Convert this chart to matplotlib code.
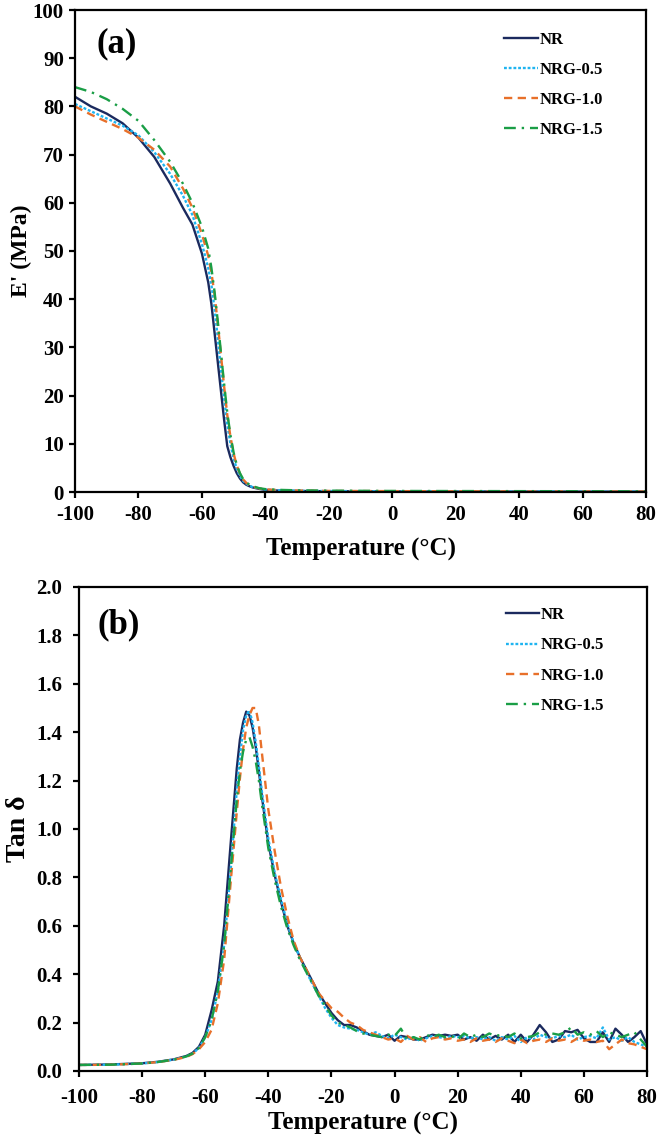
import matplotlib
matplotlib.use("Agg")
import matplotlib.pyplot as plt
import numpy as np

# ---------------- data: storage modulus E' (MPa) ----------------
T_mod = [-100, -95, -90, -85, -80, -75, -70, -66, -63, -60, -58, -57, -56, -55, -54,
         -53, -52, -51, -50, -49, -48, -47, -46, -45, -44, -42, -40, -36, -30, -20,
         0, 20, 40, 60, 80]
E_NR = [82, 80, 78.5, 76.5, 73.5, 69.5, 64, 59, 55.5, 49.5, 43.5, 39, 33, 27, 21,
        15, 9.5, 7.2, 5.4, 3.9, 2.8, 2.0, 1.5, 1.2, 0.95, 0.65, 0.45, 0.3, 0.22, 0.16,
        0.12, 0.1, 0.09, 0.08, 0.07]
E_G05 = [80.5, 79, 77.5, 76, 74, 70.5, 66, 61.5, 57.5, 51.5, 46.5, 43, 38, 32, 25.5,
         19.5, 14, 10, 7, 4.8, 3.3, 2.3, 1.7, 1.3, 1.0, 0.7, 0.5, 0.35, 0.25, 0.2,
         0.15, 0.12, 0.1, 0.09, 0.08]
E_G10 = [80, 78.3, 76.8, 75.3, 73.5, 71, 67.5, 63, 59, 53.5, 49, 45.5, 41, 35, 28.5,
         22, 16, 11.5, 8, 5.5, 3.8, 2.6, 1.9, 1.4, 1.1, 0.75, 0.55, 0.4, 0.3, 0.22,
         0.18, 0.15, 0.13, 0.12, 0.1]
E_G15 = [84, 83, 81.5, 79.5, 77, 73, 68.5, 64, 60, 55, 50.5, 46.5, 41.5, 35.5, 29,
         22.5, 16.5, 11.8, 8.2, 5.6, 3.9, 2.7, 2.0, 1.5, 1.2, 0.8, 0.6, 0.45, 0.35, 0.28,
         0.22, 0.2, 0.18, 0.16, 0.14]

# ---------------- data: tan delta ----------------
T_tan = [-100, -90, -80, -75, -70, -66, -64, -62, -60, -58, -56, -54, -52, -50, -49,
         -48, -47, -46, -45, -44, -43, -42, -40, -38, -36, -34, -32, -30, -28, -26,
         -24, -22, -20, -18, -16, -14, -12, -10,
         -8, -6, -4, -2, 0, 2, 4, 6, 8, 10, 12, 14, 16, 18, 20, 22, 24, 26, 28, 30,
         32, 34, 36, 38, 40, 42, 44, 46, 48, 50, 52, 54, 56, 58, 60, 62, 64, 66, 68,
         70, 72, 74, 76, 78, 80]
tan_NR = [0.025, 0.027, 0.032, 0.038, 0.048, 0.062, 0.075, 0.10, 0.15, 0.25, 0.37, 0.60, 0.93, 1.25, 1.37,
          1.44, 1.485, 1.47, 1.42, 1.34, 1.24, 1.13, 0.94, 0.81, 0.70, 0.60, 0.53, 0.47, 0.42, 0.37,
          0.32, 0.28, 0.24, 0.21, 0.19, 0.19, 0.18, 0.165,
          0.15, 0.145, 0.14, 0.15, 0.125, 0.145, 0.14, 0.13, 0.13, 0.14, 0.15, 0.145, 0.15, 0.145, 0.15, 0.13, 0.14, 0.125, 0.15, 0.13,
          0.145, 0.13, 0.15, 0.12, 0.15, 0.12, 0.15, 0.19, 0.16, 0.12, 0.13, 0.165, 0.16, 0.17, 0.135, 0.12, 0.12, 0.16, 0.12,
          0.175, 0.15, 0.12, 0.14, 0.165, 0.11]
tan_G05 = [0.025, 0.026, 0.031, 0.037, 0.047, 0.06, 0.072, 0.095, 0.14, 0.21, 0.33, 0.52, 0.82, 1.16, 1.30,
           1.41, 1.47, 1.49, 1.44, 1.36, 1.26, 1.15, 0.96, 0.82, 0.71, 0.61, 0.53, 0.47, 0.41, 0.36,
           0.31, 0.26, 0.22, 0.19, 0.18, 0.175, 0.17, 0.16,
           0.15, 0.16, 0.145, 0.135, 0.15, 0.14, 0.13, 0.14, 0.125, 0.135, 0.145, 0.14, 0.135, 0.145, 0.14, 0.145, 0.135, 0.14, 0.13, 0.14,
           0.125, 0.14, 0.13, 0.145, 0.12, 0.14, 0.13, 0.15, 0.14, 0.135, 0.145, 0.14, 0.15, 0.13, 0.14, 0.145, 0.135, 0.18, 0.13,
           0.14, 0.125, 0.14, 0.12, 0.11, 0.10]
tan_G10 = [0.025, 0.026, 0.031, 0.037, 0.046, 0.058, 0.07, 0.09, 0.12, 0.17, 0.28, 0.46, 0.77, 1.07, 1.21,
           1.33, 1.42, 1.47, 1.50, 1.50, 1.43, 1.31, 1.08, 0.91, 0.76, 0.64, 0.54, 0.47, 0.42, 0.37,
           0.32, 0.29, 0.26, 0.245, 0.22, 0.20, 0.19, 0.17,
           0.16, 0.15, 0.14, 0.13, 0.135, 0.12, 0.145, 0.13, 0.14, 0.12, 0.135, 0.14, 0.13, 0.135, 0.125, 0.13, 0.12, 0.135, 0.125, 0.13,
           0.12, 0.135, 0.125, 0.115, 0.13, 0.115, 0.125, 0.13, 0.12, 0.135, 0.125, 0.13, 0.12, 0.135, 0.125, 0.13, 0.12, 0.125, 0.09,
           0.11, 0.13, 0.115, 0.11, 0.10, 0.09]
tan_G15 = [0.025, 0.026, 0.031, 0.037, 0.047, 0.06, 0.072, 0.095, 0.14, 0.21, 0.33, 0.52, 0.82, 1.12, 1.24,
           1.32, 1.37, 1.38, 1.34, 1.28, 1.20, 1.10, 0.92, 0.79, 0.68, 0.59, 0.52, 0.46, 0.41, 0.36,
           0.31, 0.27, 0.23, 0.20, 0.19, 0.18, 0.165, 0.155,
           0.15, 0.145, 0.14, 0.15, 0.145, 0.175, 0.13, 0.14, 0.13, 0.15, 0.14, 0.15, 0.14, 0.145, 0.13, 0.155, 0.14, 0.15, 0.14, 0.155,
           0.145, 0.15, 0.14, 0.155, 0.135, 0.14, 0.145, 0.16, 0.15, 0.155, 0.15, 0.16, 0.18, 0.15, 0.16, 0.15, 0.165, 0.14, 0.16,
           0.15, 0.14, 0.15, 0.16, 0.13, 0.10]

labels = ["NR", "NRG-0.5", "NRG-1.0", "NRG-1.5"]
x_ticks = [-100, -80, -60, -40, -20, 0, 20, 40, 60, 80]

# ---------------- styles ----------------
colors = ["#1B2A5E", "#1FB4F0", "#E8702A", "#1A9E46"]
styles = ["-", (0, (1.2, 0.8)), (0, (3.5, 2.3)), (0, (5, 2.5, 1, 2.5))]
LW = 1.7

plt.rcParams['font.family'] = ['Liberation Serif', 'DejaVu Serif']
plt.rcParams['font.weight'] = 'bold'

fig = plt.figure(figsize=(6.60, 11.41), dpi=100)
ax1 = fig.add_axes([75 / 660, 1 - 492 / 1141, 571 / 660, 482 / 1141])
ax2 = fig.add_axes([79 / 660, 1 - 1071 / 1141, 568 / 660, 484 / 1141])

mods = [E_NR, E_G05, E_G10, E_G15]
tans = [tan_NR, tan_G05, tan_G10, tan_G15]

for i in range(4):
    ax1.plot(T_mod, mods[i], color=colors[i], linestyle=styles[i], lw=LW, label=labels[i])
    ax2.plot(T_tan, tans[i], color=colors[i], linestyle=styles[i], lw=LW, label=labels[i])


def style_axes(ax, ylim, yticks, yfmt, ylabel, ylabel_size, letter, letter_pos, ypad, xpad, leg_anchor):
    ax.set_xlim(-100, 80)
    ax.set_ylim(*ylim)
    ax.set_xticks(x_ticks)
    ax.set_xticklabels([str(t) for t in x_ticks])
    ax.set_yticks(yticks)
    ax.set_yticklabels([yfmt.format(v) for v in yticks])
    for s in ax.spines.values():
        s.set_linewidth(1.6)
        s.set_color("black")
    ax.tick_params(direction='out', length=4, width=1.6, labelsize=15, colors='black')
    ax.tick_params(axis='y', pad=ypad)
    ax.tick_params(axis='x', pad=xpad)
    for lab in ax.get_xticklabels() + ax.get_yticklabels():
        lab.set_fontweight('bold')
    ax.set_xlabel("Temperature (°C)", fontsize=18, fontweight='bold')
    ax.set_ylabel(ylabel, fontsize=ylabel_size, fontweight='bold')
    ax.text(letter_pos[0], letter_pos[1], letter, transform=ax.transAxes, fontsize=25,
            fontweight='bold', ha='left', va='center')
    ax.legend(loc='upper left', bbox_to_anchor=leg_anchor, frameon=False,
              prop={'size': 12, 'weight': 'bold'}, handlelength=2.0,
              handletextpad=0.1, labelspacing=0.85, borderaxespad=0, borderpad=0)


style_axes(ax1, (0, 100), list(range(0, 101, 10)), "{:d}", "E' (MPa)", 17, "(a)",
           (0.037, 0.93), 4, 5, (0.752, 0.955))
style_axes(ax2, (0, 2.0), [round(0.2 * k, 1) for k in range(11)], "{:.1f}", "Tan δ", 20, "(b)",
           (0.032, 0.921), 8, 8, (0.752, 0.958))

ax1.yaxis.set_label_coords(-0.076, 0.5)
ax2.yaxis.set_label_coords(-0.085, 0.5)
ax1.xaxis.set_label_coords(0.5, -0.095)
ax2.xaxis.set_label_coords(0.5, -0.085)

fig.savefig("out.png", dpi=100)
